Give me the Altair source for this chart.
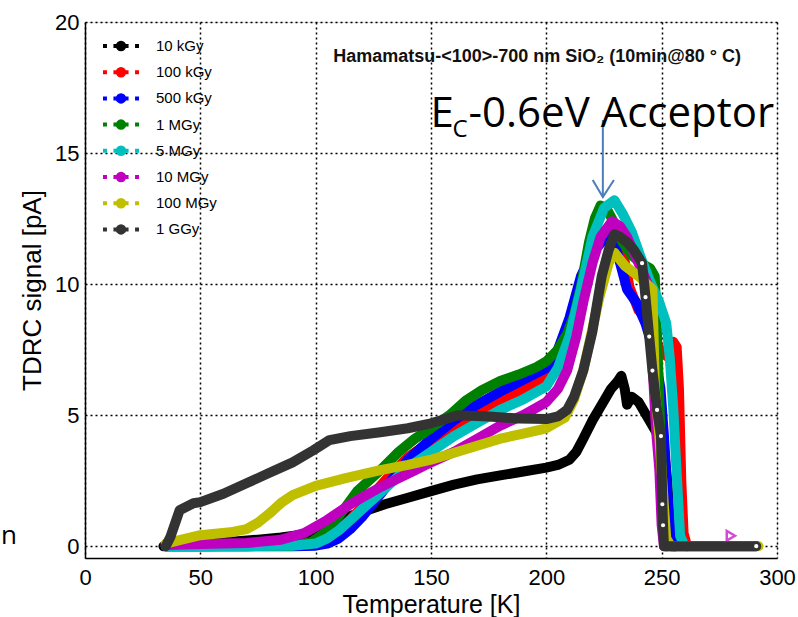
import altair as alt
import pandas as pd

# ---------------- data ----------------
series_names = ["10 kGy", "100 kGy", "500 kGy", "1 MGy", "5 MGy", "10 MGy", "100 MGy", "1 GGy"]
series_colors = ["#000000", "#ff0000", "#0000ff", "#008000", "#00bfbf", "#bf00bf", "#bfbf00", "#333333"]

t_10k = [34, 38, 45, 55, 65, 75, 85, 95, 100, 105, 110, 115, 120, 130, 140, 150, 160, 170, 180, 190,
         200, 205, 210, 213, 216, 220, 224, 228, 231, 232.5, 234, 235, 237, 240, 244, 248, 251, 252.5,
         253.5, 254.5, 256]
s_10k = [0, 0.05, 0.08, 0.12, 0.18, 0.25, 0.33, 0.45, 0.6, 0.75, 0.95, 1.15, 1.3, 1.6, 1.85, 2.1, 2.35,
         2.55, 2.7, 2.85, 3.0, 3.1, 3.3, 3.6, 4.1, 4.8, 5.4, 6.0, 6.3, 6.5, 6.0, 5.4, 5.7, 5.5, 4.9, 4.3,
         3.7, 2.4, 0.8, 0, 0]

t_100k = [35, 50, 70, 90, 100, 105, 110, 115, 120, 130, 140, 150, 160, 170, 180, 190, 200, 205, 210,
          215, 220, 225, 229, 232, 236, 240, 244, 247, 250, 253, 255, 256.5, 257.5, 258.5, 259.5, 261]
s_100k = [0, 0, 0.02, 0.05, 0.12, 0.3, 0.6, 1.0, 1.5, 2.5, 3.4, 4.0, 4.6, 5.1, 5.6, 6.0, 6.5, 7.2, 8.3,
          9.8, 11.2, 12.0, 12.3, 11.8, 9.9, 9.0, 8.6, 7.9, 7.4, 7.2, 7.8, 7.6, 6.0, 2.5, 0.5, 0]

t_500k = [35, 50, 70, 90, 100, 105, 110, 115, 120, 130, 140, 150, 160, 170, 180, 190, 200, 205, 210,
          215, 220, 225, 229, 232, 235, 239, 243, 247, 249.5, 251, 252.5, 254, 256]
s_500k = [0, 0, 0, 0, 0.02, 0.1, 0.3, 0.65, 1.1, 2.2, 3.3, 4.1, 4.8, 5.4, 5.9, 6.35, 6.8, 7.5, 8.7,
          10.3, 11.2, 11.7, 11.8, 10.8, 9.8, 9.3, 8.5, 7.3, 6.0, 4.2, 2.0, 0.3, 0]

t_1M = [35, 50, 70, 90, 98, 103, 108, 113, 118, 123, 128, 136, 143, 150, 158, 165, 172, 180, 188, 195,
        200, 205, 209, 212, 215, 218.5, 221, 223.5, 226, 229, 233, 237, 241, 245, 247, 248, 249, 250,
        251, 252]
s_1M = [0, 0, 0, 0.02, 0.15, 0.45, 0.9, 1.5, 2.1, 2.5, 2.9, 3.6, 4.1, 4.5, 5.0, 5.55, 5.95, 6.3, 6.55,
        6.8, 7.05, 7.5, 8.1, 8.8, 9.9, 11.6, 12.5, 13.0, 12.9, 12.4, 11.6, 11.1, 10.8, 10.6, 10.3, 8.0,
        5.5, 3.0, 0.6, 0]

t_5M = [35, 50, 70, 90, 100, 105, 110, 115, 120, 130, 140, 150, 160, 170, 180, 190, 200, 205, 210, 215,
        220, 225, 229.5, 233, 237, 241, 245, 249, 252, 253.5, 255, 256.5, 258, 260]
s_5M = [0, 0, 0, 0.02, 0.1, 0.3, 0.6, 1.0, 1.4, 2.2, 3.0, 3.6, 4.2, 4.7, 5.2, 5.6, 6.1, 6.8, 8.0, 9.8,
        11.8, 12.9, 13.2, 12.7, 12.0, 11.0, 10.1, 9.3, 8.5, 7.2, 5.3, 2.8, 0.4, 0]

t_10M = [35, 50, 70, 85, 95, 100, 105, 110, 115, 120, 128, 135, 142, 150, 160, 170, 180, 190, 200, 205,
         209, 213, 216, 220, 223.5, 228.5, 232, 235, 238, 241, 245, 246, 247.5, 249, 250, 251, 260, 270,
         282, 291]
s_10M = [0.05, 0.08, 0.12, 0.25, 0.5, 0.75, 1.0, 1.3, 1.6, 1.85, 2.25, 2.55, 2.85, 3.2, 3.6, 4.1, 4.6,
         5.0, 5.5, 6.0, 6.7, 8.0, 9.3, 10.8, 11.8, 12.4, 12.2, 11.8, 11.2, 10.6, 9.8, 7.0, 4.5, 2.9, 0.8,
         0, 0, 0, 0, 0]

t_100M = [35, 41, 50, 63, 70, 75, 80, 85, 90, 100, 113, 128, 140, 150, 165, 180, 190, 200, 208, 212,
          216, 220, 223, 227, 229.5, 234, 240, 246, 247, 249, 251, 252, 254, 265, 280, 292]
s_100M = [0.1, 0.23, 0.42, 0.53, 0.65, 0.9, 1.25, 1.65, 1.95, 2.3, 2.6, 2.9, 3.1, 3.3, 3.7, 4.1, 4.3,
          4.5, 4.9, 5.6, 6.7, 8.3, 9.5, 10.8, 11.2, 10.7, 10.3, 9.8, 6.1, 4.2, 1.5, 0.3, 0, 0, 0, 0]

t_1G = [35, 37, 41, 47, 50, 60, 70, 80, 90, 99, 106, 115, 128, 140, 150, 162, 175, 188, 200, 205, 209,
        212, 216, 220, 224, 227, 229.5, 232, 235, 238, 241.5, 243, 244.6, 246, 248, 249.7, 250.3, 250.6,
        251, 260, 270, 280, 291]
s_1G = [0, 0.35, 1.37, 1.64, 1.68, 2.0, 2.4, 2.8, 3.2, 3.66, 4.05, 4.2, 4.35, 4.5, 4.69, 5.0, 4.95,
        4.87, 4.85, 4.95, 5.2, 5.7, 6.7, 8.2, 10.3, 11.3, 11.9, 11.8, 11.6, 11.3, 10.8, 9.5, 8.0, 6.7,
        5.2, 4.2, 1.6, 0.8, 0, 0, 0, 0, 0]

all_t = [t_10k, t_100k, t_500k, t_1M, t_5M, t_10M, t_100M, t_1G]
all_s = [s_10k, s_100k, s_500k, s_1M, s_5M, s_10M, s_100M, s_1G]

# stray 10 MGy marker in the zero band
stray_t = [280]
stray_s = [0.4]

# tick values
x_ticks = [0, 50, 100, 150, 200, 250, 300]
y_ticks = [0, 5, 10, 15, 20]

# annotations
title_text = "Hamamatsu-<100>-700 nm SiO\u2082 (10min@80 \u00b0 C)"
title_pos = [196, 18.66]
ann_pos = [149.8, 15.99]
arrow_x = 224.5
arrow_top, arrow_tip = 16.26, 13.32
arrow_wings_t = [220.1, 224.5, 229.3]
arrow_wings_s = [13.97, 13.32, 13.97]

# ---------------- build tables ----------------
rows = []
for name, ts, ss in zip(series_names, all_t, all_s):
    for i, (t, s) in enumerate(zip(ts, ss)):
        rows.append({"series": name, "T": t, "S": s, "idx": i})
df = pd.DataFrame(rows)

color_scale = alt.Scale(domain=series_names, range=series_colors)

x_enc = alt.X("T:Q", scale=alt.Scale(domain=[0, 300], nice=False, zero=False),
              axis=alt.Axis(values=x_ticks, title="Temperature [K]", grid=True,
                            gridDash=[2, 3], gridColor="black", gridWidth=1.5, gridOpacity=1,
                            ticks=False, labelFontSize=22, titleFontSize=25, labelPadding=9,
                            titlePadding=4, labelFont="Liberation Sans", titleFont="Liberation Sans",
                            titleFontWeight="normal", labelColor="black", titleColor="black",
                            domainColor="black", domainWidth=1.5, labelFlush=False))
y_enc = alt.Y("S:Q", scale=alt.Scale(domain=[-0.45, 20], nice=False, zero=False),
              axis=alt.Axis(values=y_ticks, title="TDRC signal [pA]", grid=True,
                            gridDash=[2, 3], gridColor="black", gridWidth=1.5, gridOpacity=1,
                            ticks=False, labelFontSize=22, titleFontSize=26, labelPadding=6,
                            titlePadding=9, labelFont="Liberation Sans", titleFont="Liberation Sans",
                            titleFontWeight="normal", labelColor="black", titleColor="black",
                            domainColor="black", domainWidth=1.5, labelFlush=False))

legend_path = ("M-1,0H-0.78M-0.42,0H0.42M0.78,0H1"
               "M-0.18,0A0.18,0.18 0 1,0 0.18,0A0.18,0.18 0 1,0 -0.18,0")
legend = alt.Legend(title=None, orient="none", legendX=16, legendY=13,
                    symbolType=legend_path, symbolSize=1296, symbolStrokeWidth=4,
                    clipHeight=22, rowPadding=4.2, labelFontSize=15, labelFont="Liberation Sans",
                    labelColor="black", labelOffset=15, padding=0)

layers = []
for k, name in enumerate(series_names):
    layers.append(
        alt.Chart(df).transform_filter(alt.datum.series == name)
        .mark_line(strokeWidth=10, strokeCap="round", strokeJoin="round")
        .encode(x=x_enc, y=y_enc,
                color=alt.Color("series:N", scale=color_scale,
                                legend=legend if k == 0 else None),
                order="idx:Q")
    )

# white circle markers on the steep 1 GGy part
ggy_pts = (alt.Chart(df)
           .transform_filter(alt.datum.series == "1 GGy")
           .transform_filter(((alt.datum.T >= 241) & (alt.datum.T <= 250.7)) | (alt.datum.T >= 290))
           .mark_point(shape="circle", filled=True, fill="white", stroke="#333333",
                       strokeWidth=2.5, size=45, opacity=1)
           .encode(x="T:Q", y="S:Q"))

stray_df = pd.DataFrame({"T": stray_t, "S": stray_s})
stray = (alt.Chart(stray_df)
         .mark_point(shape="triangle-right", filled=False, stroke="#bf00bf", strokeWidth=2.5, size=90)
         .encode(x="T:Q", y="S:Q"))

title_df = pd.DataFrame({"T": [title_pos[0]], "S": [title_pos[1]], "txt": [title_text]})
title_mark = (alt.Chart(title_df)
              .mark_text(font="Liberation Sans", fontSize=18, fontWeight="bold", color="#111111",
                         align="center", baseline="middle")
              .encode(x="T:Q", y="S:Q", text="txt:N"))

ann_df = pd.DataFrame({"T": [ann_pos[0]], "S": [ann_pos[1]]})
ann_E = (alt.Chart(ann_df).mark_text(font="Open Sans", fontSize=42, align="left",
                                     baseline="alphabetic", color="black", text="E")
         .encode(x="T:Q", y="S:Q"))
ann_C = (alt.Chart(ann_df).mark_text(font="Open Sans", fontSize=24, align="left",
                                     baseline="alphabetic", color="black", text="C", dx=22, dy=10)
         .encode(x="T:Q", y="S:Q"))
ann_rest = (alt.Chart(ann_df).mark_text(font="Open Sans", fontSize=42, align="left",
                                        baseline="alphabetic", color="black",
                                        text="-0.6eV Acceptor", dx=38)
            .encode(x="T:Q", y="S:Q"))

shaft_df = pd.DataFrame({"T": [arrow_x], "S": [arrow_top], "S2": [arrow_tip]})
shaft = (alt.Chart(shaft_df).mark_rule(color="#4a7ebb", strokeWidth=2)
         .encode(x="T:Q", y="S:Q", y2="S2:Q"))
head_df = pd.DataFrame({"T": arrow_wings_t, "S": arrow_wings_s, "i": [0, 1, 2]})
head = (alt.Chart(head_df).mark_line(color="#4a7ebb", strokeWidth=2)
        .encode(x="T:Q", y="S:Q", order="i:Q"))

n_df = pd.DataFrame({"txt": ["n"]})
n_mark = (alt.Chart(n_df).mark_text(font="Open Sans", fontSize=26, align="left",
                                    baseline="alphabetic", color="black")
          .encode(x=alt.value(-84), y=alt.value(522), text="txt:N"))

chart = alt.layer(*layers, ggy_pts, stray, title_mark, shaft, head, ann_E, ann_C, ann_rest, n_mark).properties(
    width=692, height=536,
    padding={"left": 85, "top": 22, "right": 21, "bottom": 59},
    autosize="none",
).configure_view(stroke="black", strokeWidth=1.5).configure(background="white")

chart.save("out.html", embed_options={"renderer": "svg", "actions": False})
